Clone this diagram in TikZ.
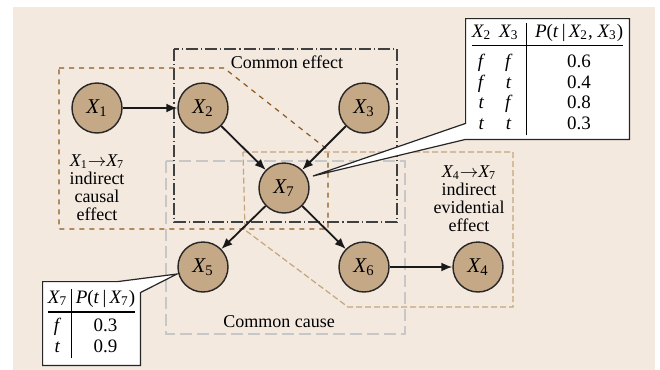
\documentclass[tikz,border=0pt]{standalone}
\usepackage{fontspec}
\setmainfont{Liberation Serif}
\usetikzlibrary{arrows.meta,calc}
\definecolor{bgsand}{HTML}{F3E9DF}
\definecolor{nodetan}{HTML}{C5A886}
\definecolor{darkbrown}{HTML}{8B5A1E}
\definecolor{lighttan}{HTML}{C4A67C}
\newcommand\xv[1]{\textit{X}\kern-0.3pt\textsubscript{#1}}
\pgfdeclarelayer{front}
\pgfsetlayers{main,front}
\setlength{\arrayrulewidth}{0.6pt}
\begin{document}
\begin{tikzpicture}[x=0.5pt,y=-0.5pt,
  var/.style={circle,draw=black!85,line width=0.7pt,fill=nodetan,minimum size=25pt,inner sep=0pt,font=\fontsize{10.5}{12}\selectfont},
  edge/.style={-{Latex[length=5.5pt,width=4.5pt]},line width=0.9pt,black!90},
  lbl/.style={font=\fontsize{9}{9}\selectfont,align=center,inner sep=0pt},
  effbox/.style={black!75,line width=0.6pt,dash pattern=on 6pt off 1.5pt on 0.6pt off 1.5pt},
  causbox/.style={darkbrown,line width=0.6pt,dash pattern=on 2.5pt off 2.5pt},
  evidbox/.style={lighttan,line width=0.6pt,dash pattern=on 3pt off 1.5pt},
  cmnbox/.style={black!22,line width=0.6pt,dash pattern=on 6pt off 2.5pt},
  cpt/.style={inner sep=0pt,font=\fontsize{9.5}{10.3}\selectfont},
  callout/.style={fill=white,draw=black!85,line width=0.6pt}]
\useasboundingbox (0,0) rectangle (660,370);
\fill[bgsand] (13,7) rectangle (655,370);
\draw[cmnbox] (166,161) rectangle (405,334);
\draw[effbox] (174,49) rectangle (397,222);
\draw[causbox] (59,68) -- (224,68) -- (328,150) -- (328,229) -- (59,229) -- cycle;
\draw[evidbox] (243,152) -- (513,152) -- (513,307) -- (348,307) -- (245,230) -- cycle;
\node[lbl] (effect) at (287,62) {Common effect};
\node[lbl] (cause) at (279,322) {Common cause};
\node[lbl] (causal) at (97,188) {\xv{1}$\rightarrow$\xv{7}\\indirect\\causal\\effect};
\node[lbl] (evid) at (469,199) {\xv{4}$\rightarrow$\xv{7}\\indirect\\evidential\\effect};
\node[var] (X1) at (97,108) {\xv{1}};
\node[var] (X2) at (203,108) {\xv{2}};
\node[var] (X3) at (364,108) {\xv{3}};
\node[var] (X7) at (284,188) {\xv{7}};
\node[var] (X5) at (203,267) {\xv{5}};
\node[var] (X6) at (364,267) {\xv{6}};
\node[var] (X4) at (478,267) {\xv{4}};
\draw[edge] (X1) -- (X2);
\draw[edge] (X2) -- (X7);
\draw[edge] (X3) -- (X7);
\draw[edge] (X7) -- (X5);
\draw[edge] (X7) -- (X6);
\draw[edge] (X6) -- (X4);
\coordinate (tipA) at ($(X7)+(29,-12)$);
\coordinate (tipB) at ($(X5)+(-26,7)$);
\begin{pgfonlayer}{front}
\node[cpt,minimum width=81.5pt,minimum height=60pt] (cptA) at (547.5,79) {%
  \begin{tabular}{@{}c@{\hspace{4pt}}c@{\hspace{4pt}}|@{\hspace{4pt}}c@{}}
  \xv{2} & \xv{3} & \textit{P}(\textit{t}\,|\,\xv{2}, \xv{3})\\[1pt] \hline
  \rule{0pt}{10.5pt}\textit{f} & \textit{f} & 0.6\\
  \textit{f} & \textit{t} & 0.4\\
  \textit{t} & \textit{f} & 0.8\\
  \textit{t} & \textit{t} & 0.3
  \end{tabular}};
\node[cpt,minimum width=48.5pt,minimum height=41.5pt] (cptB) at (91.5,323.5) {%
  \begin{tabular}{@{}c@{\hspace{2pt}}|@{\hspace{2pt}}c@{}}
  \xv{7} & \textit{P}(\textit{t}\,|\,\xv{7})\\[1pt] \hline
  \rule{0pt}{9.5pt}\textit{f} & 0.3\\
  \textit{t} & 0.9
  \end{tabular}};
\end{pgfonlayer}
\filldraw[callout] (cptA.north west) -- (cptA.north east) -- (cptA.south east) -- (cptA.south west) -- (tipA) -- ($(cptA.south west)+(0,-16)$) -- cycle;
\filldraw[callout] (cptB.north west) -- ($(cptB.north west)+(75,0)$) -- (tipB) -- ($(cptB.north east)+(0,11)$) -- (cptB.south east) -- (cptB.south west) -- cycle;
\end{tikzpicture}
\end{document}
